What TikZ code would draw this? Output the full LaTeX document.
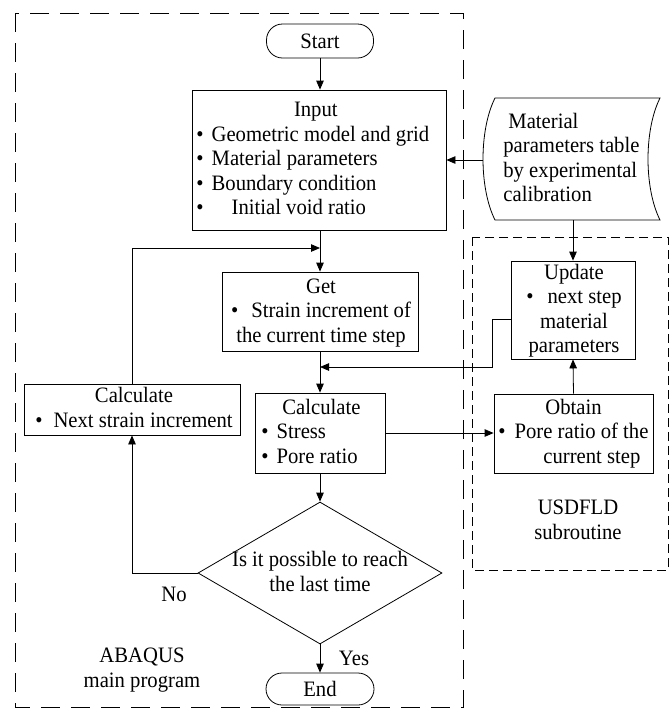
\documentclass[tikz,border=0pt]{standalone}
\usepackage{fontspec}
\setmainfont[FakeStretch=0.94]{Liberation Serif}
\usetikzlibrary{arrows.meta,shapes.geometric}
\newcommand{\bul}{\textbullet\hspace{8pt}}
\begin{document}
\begin{tikzpicture}[x=1pt,y=-1pt,line width=0.8pt,
  txt/.style={font=\fontsize{22}{24.5}\selectfont, inner sep=0pt},
  boxn/.style={draw, rectangle, inner sep=0pt},
  term/.style={draw, rectangle, rounded corners=16pt, inner sep=0pt, font=\fontsize{22}{24.5}\selectfont},
  arr/.style={-{Triangle[length=9pt,width=7.5pt]}},
  outerdash/.style={dash pattern=on 19pt off 11pt},
  innerdash/.style={dash pattern=on 9pt off 5pt}]
\useasboundingbox (0,0) rectangle (672,713);

% group frames
\draw[outerdash] (15,13) rectangle (463,707);
\draw[innerdash] (472,237) rectangle (668,570);

% terminals
\node[term, minimum width=107pt, minimum height=34pt] (start) at (320,41) {Start};
\node[term, minimum width=108pt, minimum height=32pt] (end) at (320,689) {End};

% input
\node[boxn, minimum width=254pt, minimum height=140pt] (input) at (319,160) {};
\node[txt, anchor=west] (inputt) at (196,161) {\begin{tabular}{@{}l@{}}
\multicolumn{1}{@{}c@{}}{\hspace{6pt}Input}\\
\bul Geometric model and grid\\
\bul Material parameters\\
\bul Boundary condition\\
\textbullet\hspace{28pt}Initial void ratio
\end{tabular}};

% material table (stored data shape)
\draw (495,98) -- (660,98) .. controls (644,130) and (644,188) .. (660,220)
  -- (495,220) .. controls (479,188) and (479,130) .. (495,98) -- cycle;
\coordinate (matW) at (483,160);
\coordinate (matS) at (573,220);
\node[txt, anchor=west] (matt) at (503,160) {\begin{tabular}{@{}l@{}}
\hspace{5pt}Material\\
parameters table\\
by experimental\\
calibration
\end{tabular}};

% get
\node[boxn, minimum width=196pt, minimum height=79pt] (get) at (320,311.5) {};
\node[txt] (gett) at (321,313) {\begin{tabular}{@{}c@{}}
Get\\
\textbullet\hspace{13pt}Strain increment of\\
the current time step
\end{tabular}};

% calculate left
\node[boxn, minimum width=216pt, minimum height=51pt] (calcl) at (132,409.5) {};
\node[txt] (calclt) at (134,410) {\begin{tabular}{@{}c@{}}
Calculate\\
\textbullet\hspace{11pt}Next strain increment
\end{tabular}};

% calculate
\node[boxn, minimum width=130pt, minimum height=80pt] (calc) at (320,433) {};
\node[txt, anchor=west] (calct) at (261,434) {\begin{tabular}{@{}l@{}}
\hspace{21pt}Calculate\\
\textbullet\hspace{8pt}Stress\\
\textbullet\hspace{8pt}Pore ratio
\end{tabular}};

% update
\node[boxn, minimum width=124pt, minimum height=98pt] (update) at (573,310) {};
\node[txt] (updatet) at (574,311) {\begin{tabular}{@{}c@{}}
Update\\
\textbullet\hspace{14pt}next step\\
material\\
parameters
\end{tabular}};

% obtain
\node[boxn, minimum width=159pt, minimum height=79pt] (obtain) at (573.5,433.5) {};
\node[txt, anchor=west] (obtaint) at (498,434) {\begin{tabular}{@{}l@{}}
\hspace{47pt}Obtain\\
\textbullet\hspace{9pt}Pore ratio of the\\
\hspace{45pt}current step
\end{tabular}};

% decision
\node[draw, diamond, minimum width=244pt, minimum height=142pt, inner sep=0pt] (dec) at (320,573) {};
\node[txt] (dect) at (320,574) {\begin{tabular}{@{}c@{}}
Is it possible to reach\\
the last time
\end{tabular}};

% labels
\node[txt] (no) at (174,594) {No};
\node[txt] (yes) at (354,658) {Yes};
\node[txt] (abq) at (142,670) {\begin{tabular}{@{}c@{}}ABAQUS\\ main program\end{tabular}};
\node[txt] (usd) at (578,522) {\begin{tabular}{@{}c@{}}USDFLD\\ subroutine\end{tabular}};

% junction points
\coordinate (j1) at (320,248);
\coordinate (j2) at (320,367);
\coordinate (k2) at (492,319);

% connectors
\draw[arr] (start.south) -- (input.north -| start.south);
\draw[arr] (matW) -- (input.east |- matW);
\draw[arr] (input.south -| get.north) -- (get.north);
\draw[arr] (calcl.north) |- (j1);
\draw[arr] (get.south) -- (calc.north);
\draw[arr] (update.west |- k2) -- (k2) |- (j2);
\draw[arr] (calc.south) -- (dec.north);
\draw[arr] (dec.west) -| (calcl.south);
\draw[arr] (dec.south) -- (end.north);
\draw[arr] (calc.east) -- (obtain.west |- calc.east);
\draw[arr] (obtain.north) -- (update.south);
\draw[arr] (matS) -- (matS |- update.north);
\end{tikzpicture}
\end{document}
